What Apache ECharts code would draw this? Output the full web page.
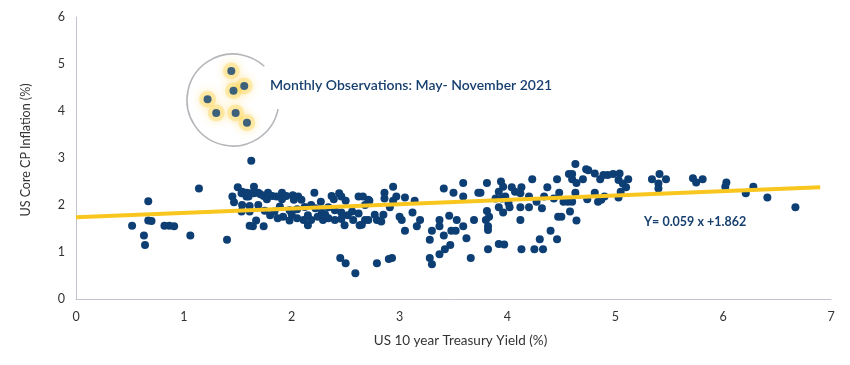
<!DOCTYPE html>
<html>
<head>
<meta charset="utf-8">
<script src="https://cdn.jsdelivr.net/npm/echarts@6/dist/echarts.min.js"></script>
<style>html,body{margin:0;padding:0;background:#fff}#c{width:850px;height:365px}</style>
</head>
<body>
<div id="c"></div>
<script>
// US 10y Treasury yield (%) for each observation
var yieldX = [
0.52,0.67,0.67,0.70,0.63,0.64,0.82,0.865,0.91,1.06,1.14,1.40,1.625,1.50,1.45,1.465,1.535,1.575,1.60,1.535,1.61,1.61,
1.65,1.54,1.58,1.58,1.61,1.65,1.69,1.71,1.74,1.78,1.77,1.82,1.86,1.91,1.91,1.95,2.01,2.02,2.06,2.09,2.21,2.27,2.37,2.39,2.44,2.46,2.50,2.62,2.66,2.71,
1.54,1.61,1.69,1.75,1.84,1.89,1.98,2.05,2.12,2.18,2.22,2.28,2.34,2.40,2.46,2.56,2.62,
1.64,1.67,1.74,1.92,1.98,2.05,2.11,2.15,2.18,2.29,2.34,2.40,2.46,2.49,2.57,2.63,2.68,
1.80,1.87,2.00,2.15,2.24,2.31,2.52,
2.45,2.50,2.59,
2.72,2.68,2.65,2.71,2.77,2.79,2.85,2.83,2.86,2.86,2.94,2.97,2.94,2.91,3.00,3.02,3.05,3.14,3.12,3.05,3.19,3.16,2.79,2.90,2.93,3.28,3.30,3.30,3.28,3.37,3.37,3.41,3.41,3.46,3.48,3.52,3.53,3.50,3.59,3.59,3.59,3.62,3.47,3.42,3.37,3.66,3.69,3.73,3.81,3.81,3.80,3.82,3.82,
3.75,3.83,3.82,3.89,3.92,3.94,3.96,3.92,3.96,3.95,3.98,4.01,4.02,4.04,4.07,4.12,4.13,4.12,4.12,3.92,3.97,4.13,4.20,4.20,4.23,4.27,4.32,4.25,4.30,4.33,4.37,4.34,4.40,4.46,4.46,4.48,4.47,4.50,4.43,4.52,4.56,4.60,4.58,4.64,4.57,4.60,4.63,4.60,4.64,4.63,4.70,4.73,4.75,4.81,4.74,4.81,4.84,4.86,4.89,4.93,4.90,
4.98,5.04,5.03,5.07,5.12,5.10,5.05,5.03,4.87,5.34,5.41,5.40,5.40,5.47,5.72,5.75,5.81,6.03,6.02,
6.21,6.28,6.41,6.67
];
// US core CPI inflation (%) for each observation
var inflationY = [
1.56,2.08,1.67,1.66,1.35,1.15,1.56,1.56,1.55,1.35,2.35,1.26,2.94,2.38,2.18,2.06,2.25,2.25,2.18,1.86,1.86,1.56,
2.39,2.28,2.26,2.18,2.25,2.25,2.26,2.23,2.19,2.26,2.12,2.19,2.18,2.26,2.12,2.19,2.21,2.11,2.18,2.11,2.26,2.07,2.19,2.12,2.25,2.18,2.09,2.18,2.18,2.11,
2.00,1.98,2.00,1.88,1.86,1.97,1.89,1.91,1.96,2.00,1.93,1.84,1.95,1.89,1.84,1.86,1.82,
1.55,1.67,1.55,1.75,1.67,1.72,1.68,1.57,1.68,1.68,1.72,1.68,1.70,1.57,1.68,1.57,1.68,
1.78,1.72,1.80,1.78,1.75,1.80,1.78,
0.87,0.76,0.55,
2.09,2.00,1.58,1.68,1.79,1.68,1.79,1.65,2.26,2.14,2.39,2.18,2.09,1.95,1.75,1.68,2.16,2.09,1.84,1.45,1.68,1.55,0.76,0.85,0.87,0.87,0.74,1.45,1.26,1.68,1.55,1.35,2.35,1.77,1.45,1.45,1.68,2.26,2.47,2.18,1.55,1.29,1.15,1.06,0.95,0.87,1.68,2.26,2.47,1.87,1.68,1.47,1.06,
2.26,1.75,1.55,2.14,2.28,2.50,2.39,1.95,1.84,2.14,2.18,2.04,1.95,2.38,2.28,2.25,2.38,1.95,1.68,1.17,1.16,1.06,2.18,1.95,2.55,2.07,1.93,1.06,1.27,1.06,2.38,2.18,1.45,1.27,2.55,2.26,1.75,1.75,2.14,2.07,2.07,2.07,1.86,1.67,2.66,2.66,2.87,2.55,2.47,2.26,2.55,2.76,2.74,2.67,2.12,2.26,2.07,2.55,2.64,2.64,2.18,
2.66,2.67,2.53,2.46,2.55,2.38,2.28,2.16,2.11,2.55,2.66,2.46,2.35,2.55,2.57,2.48,2.55,2.48,2.39,
2.25,2.39,2.16,1.95
];
// Monthly observations May - November 2021
var obs2021X = [1.44,1.56,1.46,1.22,1.30,1.48,1.585];
var obs2021Y = [4.85,4.53,4.43,4.25,3.96,3.96,3.75];
// Trend line as drawn
var trendX = [0, 6.9];
var trendY = [1.74, 2.38];
var xTicks = [0,1,2,3,4,5,6,7];
var yTicks = [0,1,2,3,4,5,6];

function zip(a,b){var r=[];for(var i=0;i<a.length;i++)r.push([a[i],b[i]]);return r;}

var navy = '#0d3f74';
var chart = echarts.init(document.getElementById('c'), null, {renderer:'canvas'});
chart.setOption({
  animation:false,
  backgroundColor:'#fff',
  grid:{left:76,right:19,top:17,bottom:66},
  textStyle:{fontFamily:'Lato, "Noto Sans", sans-serif'},
  xAxis:{
    type:'value',min:xTicks[0],max:xTicks[xTicks.length-1],interval:1,
    name:'US 10 year Treasury Yield (%)',nameLocation:'middle',nameGap:35,
    nameTextStyle:{color:'#333',fontSize:13.5,padding:[0,0,0,14]},
    axisLine:{lineStyle:{color:'#c0c4cc',width:1}},
    axisTick:{show:false},splitLine:{show:false},
    axisLabel:{color:'#333',fontSize:12.5,margin:11}
  },
  yAxis:{
    type:'value',min:yTicks[0],max:yTicks[yTicks.length-1],interval:1,
    name:'US Core CP Inflation (%)',nameLocation:'middle',nameGap:44,
    nameTextStyle:{color:'#333',fontSize:12.5,padding:[0,0,0,16]},
    axisLine:{show:true,lineStyle:{color:'#c0c4cc',width:1}},
    axisTick:{show:false},splitLine:{show:false},
    axisLabel:{color:'#333',fontSize:12.5,margin:11}
  },
  series:[
    {type:'scatter',data:zip(yieldX,inflationY),symbolSize:8,
     itemStyle:{color:navy,opacity:1},z:2},
    {type:'line',data:zip(trendX,trendY),showSymbol:false,symbol:'none',
     lineStyle:{color:'#f8c61f',width:4},z:3,silent:true},
    {type:'scatter',data:zip(obs2021X,obs2021Y),symbolSize:17,
     itemStyle:{color:'rgba(253,214,90,0.5)',shadowBlur:8,shadowColor:'rgba(253,205,60,0.95)'},z:4},
    {type:'scatter',data:zip(obs2021X,obs2021Y),symbolSize:8,
     itemStyle:{color:navy},z:5}
  ],
  graphic:[
    {type:'arc',shape:{cx:233,cy:100,r:46,startAngle:0.2,endAngle:5.46,clockwise:true},
     style:{stroke:'#b4b6ba',lineWidth:1.6,fill:null},z:1},
    {type:'text',left:270,top:78,style:{text:'Monthly Observations: May- November 2021',
     fill:'#17406f',font:'600 14px Lato, "Noto Sans", sans-serif'}},
    {type:'text',left:644,top:215,style:{text:'Y= 0.059 x +1.862',
     fill:'#17406f',font:'700 12.5px Lato, "Noto Sans", sans-serif'}}
  ]
});
</script>
</body>
</html>
